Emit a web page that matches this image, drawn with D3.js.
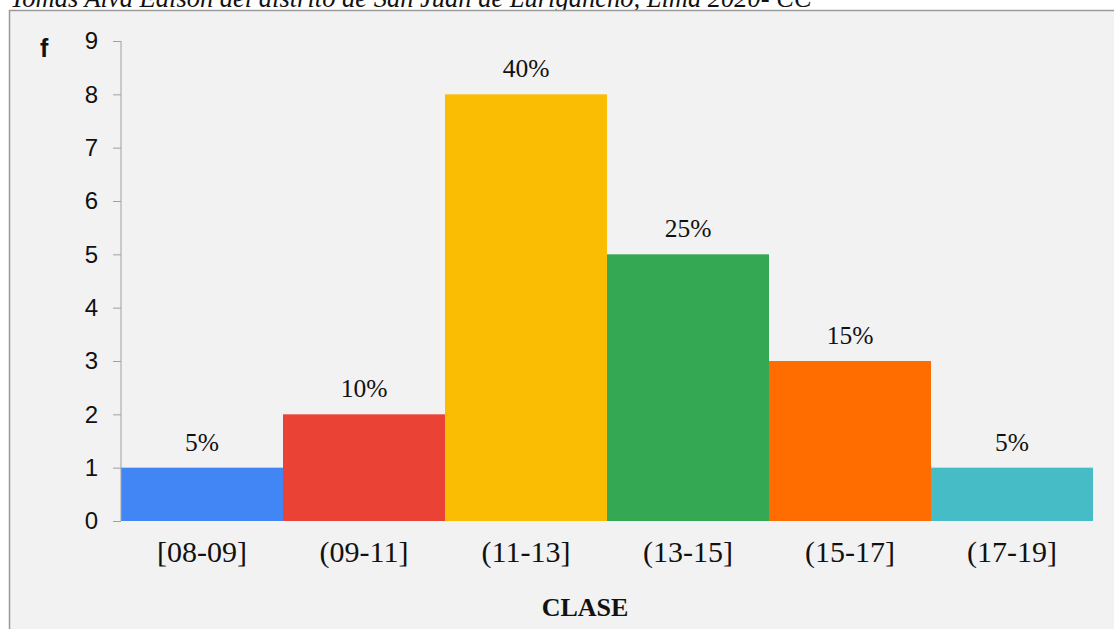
<!DOCTYPE html>
<html>
<head>
<meta charset="utf-8">
<script src="https://cdn.jsdelivr.net/npm/d3@7"></script>
<style>
  body { margin: 0; background: #fff; }
</style>
</head>
<body>
<div id="chart"></div>
<script>
// data
const clases = ["[08-09]", "(09-11]", "(11-13]", "(13-15]", "(15-17]", "(17-19]"];
const frecuencias = [1, 2, 8, 5, 3, 1];
const porcentajes = ["5%", "10%", "40%", "25%", "15%", "5%"];
const colores = ["#4285f4", "#ea4335", "#fbbc04", "#34a853", "#ff6d01", "#46bdc6"];
const yTicks = [0, 1, 2, 3, 4, 5, 6, 7, 8, 9];

const W = 1114, H = 629;
const margin = {top: 41, right: 21, bottom: 108, left: 121};
const width = W - margin.left - margin.right;
const height = H - margin.top - margin.bottom;

const root = d3.select("#chart")
  .append("svg")
  .attr("width", W)
  .attr("height", H);

// caption line, cut off at the top like in the source
root.append("text")
  .attr("x", 10)
  .attr("y", 7)
  .style("font-family", "'Liberation Serif', 'Times New Roman', serif")
  .style("font-style", "italic")
  .style("font-size", "26.5px")
  .style("fill", "#111")
  .text("Tomás Alva Edison del distrito de San Juan de Lurigancho, Lima 2020- CC");

// chart box
root.append("rect")
  .attr("x", 9.5)
  .attr("y", 10.5)
  .attr("width", W + 10)
  .attr("height", H + 10)
  .style("fill", "#f2f2f2")
  .style("stroke", "#9a9a9a")
  .style("stroke-width", 1.5);

const svg = root.append("g")
  .attr("transform", `translate(${margin.left}, ${margin.top})`);

const x = d3.scaleBand()
  .range([0, width])
  .domain(clases)
  .padding(0);

const y = d3.scaleLinear()
  .range([height, 0])
  .domain([0, 9]);

// bars
svg.selectAll(".bar")
  .data(clases)
  .join("rect")
    .attr("class", "bar")
    .attr("x", d => x(d))
    .attr("y", (d, i) => y(frecuencias[i]))
    .attr("width", x.bandwidth())
    .attr("height", (d, i) => height - y(frecuencias[i]))
    .style("fill", (d, i) => colores[i]);

// percent labels
svg.selectAll(".pct")
  .data(clases)
  .join("text")
    .attr("class", "pct")
    .attr("x", d => x(d) + x.bandwidth() / 2)
    .attr("y", (d, i) => y(frecuencias[i]) - 17)
    .attr("text-anchor", "middle")
    .style("font-family", "'Liberation Serif', 'Times New Roman', serif")
    .style("font-size", "25.5px")
    .style("fill", "#111")
    .text((d, i) => porcentajes[i]);

// y axis
const yAxis = svg.append("g")
  .call(d3.axisLeft(y).tickValues(yTicks).tickSize(8).tickPadding(15).tickFormat(d3.format("d")));
yAxis.select(".domain").attr("d", `M0,${y(9)}V${y(0)}`).style("stroke", "#a0a0a0");
yAxis.selectAll(".tick line").style("stroke", "#a0a0a0");
yAxis.selectAll(".tick text")
  .style("font-family", "'Liberation Sans', Arial, sans-serif")
  .style("font-size", "24px")
  .style("fill", "#111");

// x axis labels
const xAxis = svg.append("g")
  .attr("transform", `translate(0, ${height})`)
  .call(d3.axisBottom(x).tickSize(0).tickPadding(20));
xAxis.select(".domain").remove();
xAxis.selectAll(".tick text")
  .style("font-family", "'Liberation Serif', 'Times New Roman', serif")
  .style("font-size", "30px")
  .style("fill", "#111");

// axis titles
root.append("text")
  .attr("x", 40)
  .attr("y", 57)
  .style("font-family", "'Liberation Sans', Arial, sans-serif")
  .style("font-weight", "bold")
  .style("font-size", "25px")
  .style("fill", "#111")
  .text("f");

root.append("text")
  .attr("x", 585)
  .attr("y", 616)
  .attr("text-anchor", "middle")
  .style("font-family", "'Liberation Serif', 'Times New Roman', serif")
  .style("font-weight", "bold")
  .style("font-size", "26px")
  .style("fill", "#111")
  .text("CLASE");
</script>
</body>
</html>
